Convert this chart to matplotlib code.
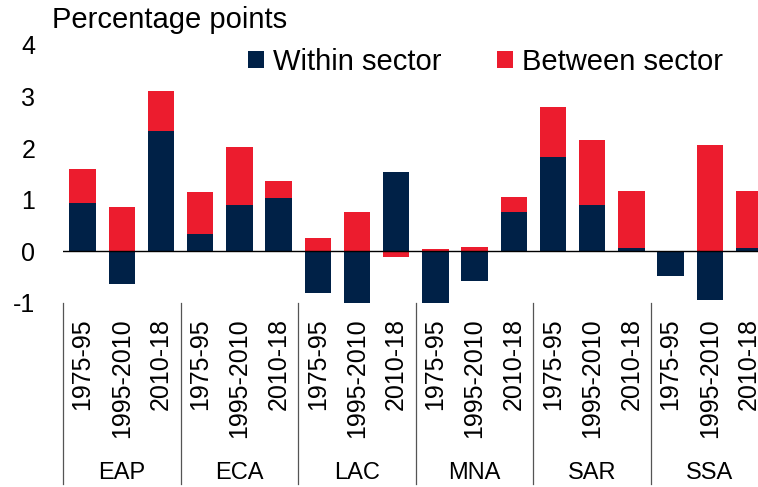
import numpy as np
import matplotlib.pyplot as plt
import matplotlib.transforms as mtransforms

plt.rcParams["font.family"] = ["Liberation Sans", "DejaVu Sans"]

# -----------------------------
# Data
# -----------------------------
regions = ["EAP", "ECA", "LAC", "MNA", "SAR", "SSA"]
periods = ["1975-95", "1995-2010", "2010-18"]

within = [0.93, -0.63, 2.34,
          0.34, 0.89, 1.03,
          -0.80, -1.02, 1.53,
          -1.02, -0.58, 0.77,
          1.83, 0.89, 0.06,
          -0.47, -0.95, 0.06]
between = [0.66, 0.87, 0.77,
           0.81, 1.13, 0.34,
           0.25, 0.77, -0.10,
           0.04, 0.08, 0.29,
           0.96, 1.26, 1.11,
           0.00, 2.06, 1.11]

NAVY = "#002147"
RED = "#EC1C2E"

within = np.array(within)
between = np.array(between)
x = np.arange(len(within))

# between stacks on within only when both have the same sign
bottom_b = np.where(between >= 0, np.maximum(within, 0), np.minimum(within, 0))

fig = plt.figure(figsize=(7.58, 4.87), dpi=100)
W, H = 758, 487
left, right, top, bot = 63, 768.6, 45, 303
ax = fig.add_axes([left / W, 1 - bot / H, (right - left) / W, (bot - top) / H])

ax.bar(x, within, width=0.67, color=NAVY, label="Within sector")
ax.bar(x, between, bottom=bottom_b, width=0.67, color=RED, label="Between sector")

ax.set_xlim(-0.5, len(x) - 0.5)
ax.set_ylim(-1, 4)
ax.axhline(0, color="black", linewidth=1)

for s in ax.spines.values():
    s.set_visible(False)

ax.set_yticks([-1, 0, 1, 2, 3, 4])
ax.set_yticklabels(["-1", "0", "1", "2", "3", "4"])
ax.tick_params(axis="y", length=0, pad=20, labelsize=18)

ax.set_xticks(x)
ax.set_xticklabels(periods * len(regions), rotation=90, fontsize=18)
ax.tick_params(axis="x", length=0, pad=11)

# group separators and region labels below the axis
trans = mtransforms.blended_transform_factory(ax.transData, ax.transAxes)
for k in range(len(regions) + 1):
    xs = k * 3 - 0.5
    ax.plot([xs, xs], [0, -0.70], transform=trans, color="#555555",
            linewidth=0.9, clip_on=False)
for k, r in enumerate(regions):
    ax.text(k * 3 + 1, -0.66, r, transform=trans, ha="center", va="center",
            fontsize=17)

fig.text(52 / W, 1 - 20 / H, "Percentage points", ha="left", va="center",
         fontsize=21)

ax.legend(loc="center left", bbox_to_anchor=(248 / W, 1 - 62 / H),
          bbox_transform=fig.transFigure, ncol=2, frameon=False,
          fontsize=21, handlelength=0.55, handleheight=0.55,
          handletextpad=0.3, columnspacing=1.9, borderpad=0, borderaxespad=0)

fig.savefig("out.png", dpi=100)
